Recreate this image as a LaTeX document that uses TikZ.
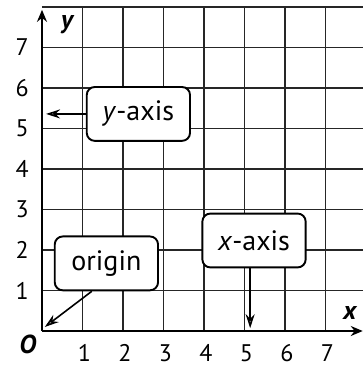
\documentclass[tikz,border=0pt]{standalone}
\usepackage{fontspec}
\setmainfont{PT Sans}
\usetikzlibrary{arrows.meta}
\begin{document}
\begin{tikzpicture}[x=40.5pt,y=40.5pt,
  gridline/.style={line width=1.1pt,black!85},
  axisline/.style={line width=2.4pt,-{Stealth[length=12pt,width=10pt]}},
  labelbox/.style={draw,line width=1.9pt,rounded corners=8pt,fill=white,minimum width=2.55*40.5pt,minimum height=1.33*40.5pt,inner sep=0pt,font=\fontsize{28}{30}\selectfont},
  callout/.style={line width=1.6pt,-{Stealth[length=14pt,width=9pt,fill=gray!50]}},
  tick/.style={font=\fontsize{24}{26}\selectfont,inner sep=0pt},
  axname/.style={font=\fontsize{26}{28}\selectfont\bfseries\itshape,inner sep=0pt}]
\useasboundingbox (-1.037,-0.938) rectangle (7.926,8.173);
% grid
\foreach \i in {1,...,7} \draw[gridline] (\i,0) -- (\i,8);
\foreach \j in {1,...,8} \draw[gridline] (0,\j) -- (7.926,\j);
% axes
\coordinate (O) at (0,0);
\coordinate (ytip) at (0,7.93);
\coordinate (xtip) at (7.92,0);
\draw[axisline] (O) -- (ytip);
\draw[axisline] (O) -- (xtip);
% axis names
\node[axname] (ylab) at (0.62,7.56) {y};
\node[axname] (xlab) at (7.6,0.44) {x};
\node[axname] (olab) at (-0.35,-0.33) {O};
% tick labels
\foreach \k in {1,...,7} {
  \node[tick] (yt\k) at (-0.49,\k) {\k};
  \node[tick] (xt\k) at (\k+0.05,-0.55) {\k};
}
% boxes
\node[labelbox] (ybox) at (2.38,5.36) {\textit{y}-axis};
\node[labelbox] (obox) at (1.59,1.67) {origin};
\node[labelbox] (xbox) at (5.235,2.235) {\textit{x}-axis};
% callouts
\coordinate (yend) at (0.1,5.36);
\coordinate (oend) at (0.07,0.1);
\coordinate (xend) at (5.14,0.07);
\draw[callout] (ybox.west) -- (yend);
\draw[callout] (obox.south -| 1.23,0) -- (oend);
\draw[callout] (xbox.south -| 5.14,0) -- (xend);
\end{tikzpicture}
\end{document}
